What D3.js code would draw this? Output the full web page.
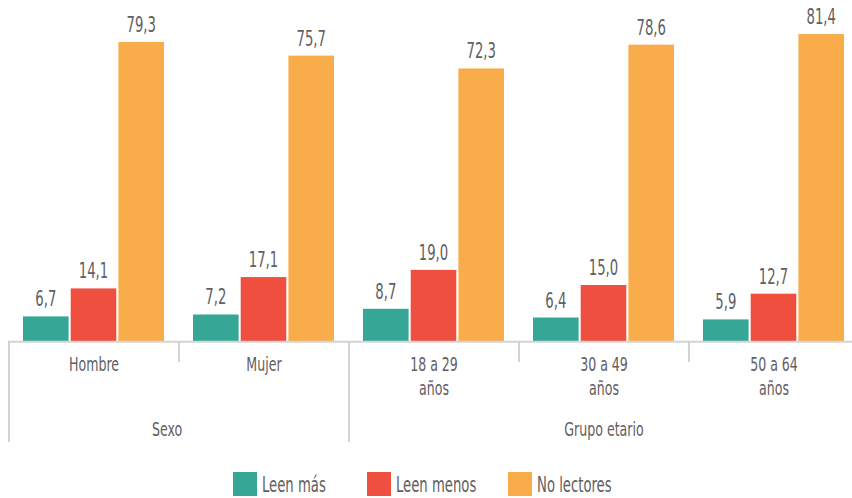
<!DOCTYPE html>
<meta charset="utf-8">
<style>
body { margin: 0; background: #fff; }
text { font-family: "Liberation Sans Narrow", "DejaVu Sans Condensed", "DejaVu Sans", sans-serif; fill: #5f6062; }
</style>
<svg width="852" height="498"></svg>
<script src="https://cdn.jsdelivr.net/npm/d3@7"></script>
<script>

// data
var categories = ["Hombre", "Mujer", "18 a 29|años", "30 a 49|años", "50 a 64|años"];
var groups = [{name: "Sexo", from: 0, to: 1}, {name: "Grupo etario", from: 2, to: 4}];
var series = ["Leen más", "Leen menos", "No lectores"];
var leenMas = [6.7, 7.2, 8.7, 6.4, 5.9];
var leenMenos = [14.1, 17.1, 19.0, 15.0, 12.7];
var noLectores = [79.3, 75.7, 72.3, 78.6, 81.4];
var colors = ["#36a796", "#ef4f3e", "#f9ac4a"];

var values = [leenMas, leenMenos, noLectores];

var svg = d3.select("svg");
var baseY = 341.7;
var squeeze = 0.7; // condensed look

// text helper, squeezed horizontally
function label(x, y, str, size, anchor) {
  var t = svg.append("text")
    .attr("transform", "translate(" + x + "," + y + ") scale(" + squeeze + ",1)")
    .attr("text-anchor", anchor || "middle")
    .style("font-size", size + "px");
  str.split("|").forEach(function(line, k) {
    t.append("tspan").attr("x", 0).attr("dy", k === 0 ? 0 : 24).text(line);
  });
  return t;
}

var x0 = d3.scaleBand()
    .domain(d3.range(categories.length))
    .range([9, 859]);

var x1 = d3.scaleBand()
    .domain(series)
    .range([14, 155])
    .paddingInner(0.044);

var y = d3.scaleLinear()
    .domain([0, 79.3])
    .range([baseY, 42]);

var fmt = function(v) { return d3.format(".1f")(v).replace(".", ","); };

// bars
categories.forEach(function(c, i) {
  series.forEach(function(s, j) {
    var v = values[j][i];
    svg.append("rect")
      .attr("x", x0(i) + x1(s))
      .attr("y", y(v))
      .attr("width", x1.bandwidth())
      .attr("height", baseY - y(v))
      .attr("fill", colors[j]);
    label(x0(i) + x1(s) + x1.bandwidth() / 2, y(v) - 10, fmt(v), 21);
  });
});

// axis
var axisColor = "#d4d4d4";
svg.append("line")
  .attr("x1", 8).attr("x2", 852)
  .attr("y1", baseY).attr("y2", baseY)
  .attr("stroke", axisColor).attr("stroke-width", 2);

var groupStarts = groups.map(function(d) { return d.from; });
d3.range(categories.length).forEach(function(i) {
  var long = groupStarts.indexOf(i) >= 0;
  svg.append("line")
    .attr("x1", x0(i)).attr("x2", x0(i))
    .attr("y1", baseY).attr("y2", long ? 442 : 362)
    .attr("stroke", axisColor).attr("stroke-width", 2);
});

// category labels
categories.forEach(function(c, i) {
  label(x0(i) + x0.bandwidth() / 2, 371, c, 20);
});

// group labels
groups.forEach(function(gr) {
  var a = x0(gr.from), b = x0(gr.to) + x0.bandwidth();
  label((a + b) / 2 - (gr.from === 0 ? 12 : 0), 436, gr.name, 20);
});

// legend
var legendX = [233, 367, 508];
series.forEach(function(s, j) {
  svg.append("rect")
    .attr("x", legendX[j]).attr("y", 472)
    .attr("width", 24).attr("height", 24)
    .attr("fill", colors[j]);
  label(legendX[j] + 29, 492, s, 21, "start");
});

</script>
